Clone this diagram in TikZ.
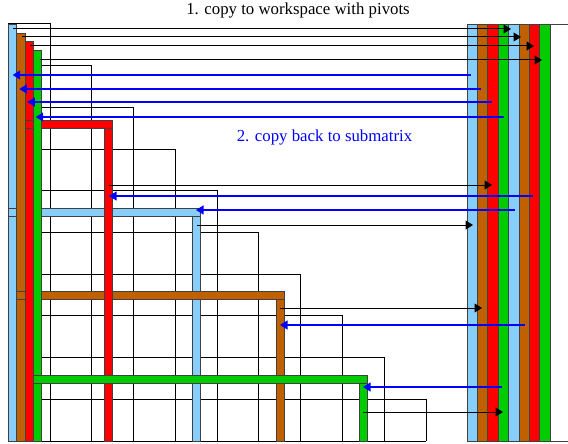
\documentclass[tikz,border=0pt]{standalone}
\usepackage{fontspec}
\setmainfont{Liberation Serif}
\usetikzlibrary{arrows.meta}
\definecolor{pivblue}{RGB}{135,206,250}
\definecolor{pivbrown}{RGB}{192,96,0}
\definecolor{pivred}{RGB}{255,0,0}
\definecolor{pivgreen}{RGB}{0,204,0}
\definecolor{backblue}{RGB}{0,0,255}
\begin{document}
\begin{tikzpicture}[x=1pt,y=-1pt,
  blockline/.style={draw=black, line width=1pt},
  bar/.style={draw=black!75, line width=0.9pt},
  toward/.style={draw=black, line width=1pt, -{Triangle[length=7.5pt,width=9pt]}},
  backward/.style={draw=backblue, line width=1.1pt, -{Triangle[length=7.5pt,width=9pt]}},
  caption/.style={font=\fontsize{16.8}{20}\selectfont, anchor=base, inner sep=0pt}]
\useasboundingbox (0,0) rectangle (568,444);

% staircase of blocks of the lower-triangular matrix
\foreach \k in {0,...,9} {
  \pgfmathsetmacro\xr{50+41.78*\k}
  \pgfmathsetmacro\yt{24+41.7*\k}
  \draw[blockline] (8,\yt) -- (\xr,\yt) -- (\xr,441);
}
\draw[blockline] (8,24) -- (8,441) -- (426,441);

% pivot columns and rows (drawn in this order so later ones lie on top)
\path[bar, fill=pivblue] (8.3,24) rectangle (16.7,441);
\path[bar, fill=pivblue] (192,208) rectangle (200.4,441);
\path[bar, fill=pivblue] (8.3,208) rectangle (200.4,216.4);

\path[bar, fill=pivbrown] (16.7,33) rectangle (25.1,441);
\path[bar, fill=pivbrown] (276,291) rectangle (284.4,441);
\path[bar, fill=pivbrown] (16.7,291) rectangle (284.4,299.4);

\path[bar, fill=pivred] (25.1,41.3) rectangle (33.5,441);
\path[bar, fill=pivred] (104.5,120.5) rectangle (112.9,441);
\path[bar, fill=pivred] (25.1,120.5) rectangle (112.9,128.9);

\path[bar, fill=pivgreen] (33.5,50) rectangle (41.9,441);
\path[bar, fill=pivgreen] (359,375) rectangle (367.4,441);
\path[bar, fill=pivgreen] (33.5,375) rectangle (367.4,383.4);

% workspace with eight columns
\foreach \c/\col in {0/pivblue,1/pivbrown,2/pivred,3/pivgreen,4/pivblue,5/pivbrown,6/pivred,7/pivgreen} {
  \path[bar, fill=\col] (467+10.4*\c,24.7) rectangle (477.4+10.4*\c,441);
}
\draw[black!75, line width=1pt] (568,24.7) -- (467,24.7) -- (467,441) -- (568,441);

% end points of the copies
\coordinate (a1) at (13,29);   \coordinate (w1) at (511,29);
\coordinate (a2) at (22,37);   \coordinate (w2) at (521,37);
\coordinate (a3) at (30,46);   \coordinate (w3) at (534,46);
\coordinate (a4) at (40,60);   \coordinate (w4) at (542,60);
\coordinate (a5) at (109,185); \coordinate (w5) at (492,185);
\coordinate (a6) at (197,225); \coordinate (w6) at (473,225);
\coordinate (a7) at (280,308); \coordinate (w7) at (482,308);
\coordinate (a8) at (363,412); \coordinate (w8) at (503,412);

\coordinate (b1) at (471,75);  \coordinate (m1) at (12.7,75);
\coordinate (b2) at (481,89);  \coordinate (m2) at (19.3,89);
\coordinate (b3) at (492,102); \coordinate (m3) at (27.3,102);
\coordinate (b4) at (504,117); \coordinate (m4) at (35.7,117);
\coordinate (b5) at (533,196); \coordinate (m5) at (109,196);
\coordinate (b6) at (515,210); \coordinate (m6) at (196,210);
\coordinate (b7) at (525,325); \coordinate (m7) at (280,325);
\coordinate (b8) at (502,387); \coordinate (m8) at (363,387);

% 1. copy to workspace
\foreach \i in {1,...,8} { \draw[toward] (a\i) -- (w\i); }
% 2. copy back
\foreach \i in {1,...,8} { \draw[backward] (b\i) -- (m\i); }

\node[caption] (title) at (298,15) {1. copy to workspace with pivots};
\node[caption, text=backblue] (backnote) at (324.5,141) {2. copy back to submatrix};
\end{tikzpicture}
\end{document}
